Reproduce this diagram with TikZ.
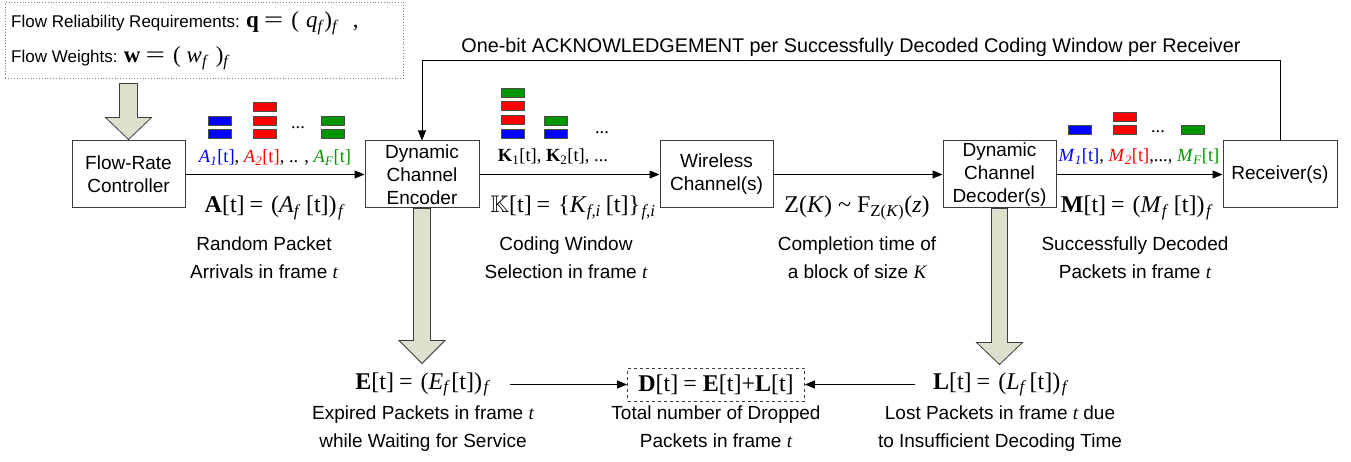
\documentclass[tikz,border=0pt]{standalone}
\usepackage{fontspec}
\usepackage{amssymb}
\usepackage{graphicx}
\setmainfont{Liberation Sans}
\newfontfamily\tm{Liberation Serif}
\usetikzlibrary{arrows.meta,calc}
\definecolor{pgreen}{RGB}{0,150,0}
\definecolor{pblue}{RGB}{0,0,255}
\definecolor{pred}{RGB}{255,0,0}
\definecolor{khaki}{RGB}{221,224,204}
\definecolor{edge}{RGB}{60,60,60}
\newcommand{\sbf}[1]{\textsubscript{\textit{#1}}}
\newcommand{\eqs}{\hspace{5pt}=\hspace{8pt}}
\newcommand{\fsp}{\hspace{5pt}}
\newcommand{\fatarrow}[4]{%
  \draw[bigarrow] let \p1=(#1), \p2=(#2) in
   (\x1-#3,\y1) -- (\x1+#3,\y1) -- (\x1+#3,\y2+#4) -- (\x1+23pt,\y2+#4) -- (\x2,\y2)
   -- (\x1-23pt,\y2+#4) -- (\x1-#3,\y2+#4) -- cycle;}
\tikzset{
 box/.style={draw=edge, line width=1pt, minimum width=113pt, minimum height=67pt, align=center, inner sep=1pt, font=\fontsize{19}{23}\selectfont},
 flow/.style={-{Triangle[length=10pt,width=8pt]}, line width=1pt, black},
 pkt/.style={draw=black!70, line width=0.6pt, minimum width=23pt, minimum height=9pt, inner sep=0pt},
 fml/.style={font=\tm\fontsize{24}{26}\selectfont, anchor=base, inner sep=0pt},
 lbl/.style={font=\tm\fontsize{18.5}{20}\selectfont, anchor=base, inner sep=0pt},
 capt/.style={font=\fontsize{19}{28}\selectfont, align=center, anchor=base, inner sep=0pt},
 bigarrow/.style={fill=khaki, draw=edge, line width=0.8pt, line join=miter},
}
\begin{document}
\begin{tikzpicture}[x=1pt,y=-1pt]
\useasboundingbox (0,0) rectangle (1351,462);

% configuration box
\node[draw=gray, dotted, line width=0.8pt, minimum width=398pt, minimum height=76pt, anchor=north west, inner sep=0pt] (cfg) at (5,2) {};
\node[anchor=base west, inner sep=0pt, font=\fontsize{17}{20}\selectfont] (cfgq) at (11,28)
  {Flow Reliability Requirements: {\tm\fontsize{23}{25}\selectfont \textbf{q}\hspace{5pt}\scalebox{1.5}[1]{=}\hspace{8pt}(\hspace{7pt}\textit{q}\sbf{f})\sbf{f}\hspace{14pt},}};
\node[anchor=base west, inner sep=0pt, font=\fontsize{17}{20}\selectfont] (cfgw) at (11,63)
  {Flow Weights: {\tm\fontsize{23}{25}\selectfont \textbf{w}\hspace{5pt}\scalebox{1.5}[1]{=}\hspace{8pt}(\hspace{6pt}\textit{w}\sbf{f}\hspace{7pt})\sbf{f}}};

% main boxes
\node[box] (ctrl) at (128.5,174.5) {Flow-Rate\\Controller};
\node[box, minimum width=114pt] (enc) at (422,174.5) {Dynamic\\Channel\\Encoder};
\node[box] (wl) at (716.5,174.5) {Wireless\\Channel(s)};
\node[box] (dec) at (999.5,174.5) {Dynamic\\Channel\\Decoder(s)};
\node[box, minimum width=114pt] (rec) at (1280,174.5) {Receiver(s)};

% horizontal flows
\draw[flow] (ctrl.east) -- (enc.west);
\draw[flow] (enc.east) -- (wl.west);
\draw[flow] (wl.east) -- (dec.west);
\draw[flow] (dec.east) -- (rec.west);

% feedback
\draw[flow] (rec.north) -- (rec.north |- 0,61) -| (enc.north);
\node[anchor=base, inner sep=0pt, font=\fontsize{19.8}{22}\selectfont] (ack) at (851,53)
  {One-bit ACKNOWLEDGEMENT per Successfully Decoded Coding Window per Receiver};

% big arrows
\fatarrow{$(ctrl.north)+(0,-57)$}{$(ctrl.north)+(0,-1)$}{9pt}{22pt}
\fatarrow{enc.south}{$(enc.south)+(0,155)$}{8.5pt}{23pt}
\fatarrow{dec.south}{$(dec.south)+(0,156)$}{8pt}{22pt}

% packets A
\node[pkt, fill=pblue] (pa1) at (219.5,120.5) {};
\node[pkt, fill=pblue] (pa2) at (219.5,133.5) {};
\node[pkt, fill=pred] (pa3) at (265,106.5) {};
\node[pkt, fill=pred] (pa4) at (265,120.5) {};
\node[pkt, fill=pred] (pa5) at (265,133.5) {};
\node[pkt, fill=pgreen] (pa6) at (332.5,120.5) {};
\node[pkt, fill=pgreen] (pa7) at (332.5,133.5) {};
\node[lbl] (pad) at (298,129) {...};

% packets K
\node[pkt, fill=pgreen] (pk1) at (512.5,92.5) {};
\node[pkt, fill=pred] (pk2) at (512.5,106.2) {};
\node[pkt, fill=pred] (pk3) at (512.5,119.8) {};
\node[pkt, fill=pblue] (pk4) at (512.5,133.5) {};
\node[pkt, fill=pgreen] (pk5) at (556,120.5) {};
\node[pkt, fill=pblue] (pk6) at (556,133.5) {};
\node[lbl] (pkd) at (602,134) {...};

% packets M
\node[pkt, fill=pblue] (pm1) at (1079.5,129.5) {};
\node[pkt, fill=pred] (pm2) at (1124.5,116.5) {};
\node[pkt, fill=pred] (pm3) at (1124.5,129.5) {};
\node[pkt, fill=pgreen] (pm4) at (1193,129.5) {};
\node[lbl] (pmd) at (1158,133) {...};

% colored labels
\node[lbl] (la) at (275,163) {{\color{pblue}\textit{A}\sbf{1}[t]}, {\color{pred}\textit{A}\sbf{2}[t]}, .. , {\color{pgreen}\textit{A}\sbf{F}[t]}};
\node[lbl] (lk) at (553,162) {\textbf{K}\textsubscript{1}[t], \textbf{K}\textsubscript{2}[t], ...};
\node[lbl] (lm) at (1139,162) {{\color{pblue}\textit{M}\sbf{1}[t]}, {\color{pred}\textit{M}\sbf{2}[t]},..., {\color{pgreen}\textit{M}\sbf{F}[t]}};

% formulas
\node[fml] (fa) at (275,212.5) {\textbf{A}[t]\eqs(\textit{A}\sbf{f}\fsp[t])\hspace{1.5pt}\sbf{f}};
\node[fml] (fk) at (573,212.5) {$\mathbb{K}$[t]\eqs\{\textit{K}\sbf{f,i}\fsp[t]\}\hspace{1.5pt}\sbf{f,i}};
\node[fml] (fz) at (857,212.5) {Z(\textit{K}) \textasciitilde{} F\textsubscript{Z(\textit{K})}(\textit{z})};
\node[fml] (fm) at (1137,212.5) {\textbf{M}[t]\eqs(\textit{M}\sbf{f}\fsp[t])\hspace{1.5pt}\sbf{f}};

% captions (base = last line)
\node[capt] (ca) at (264,278) {Random Packet\\Arrivals in frame {\tm\itshape t}};
\node[capt] (ck) at (566,278) {Coding Window\\Selection in frame {\tm\itshape t}};
\node[capt] (cz) at (857,278) {Completion time of\\a block of size {\tm\itshape K}};
\node[capt] (cm) at (1135,278) {Successfully Decoded\\Packets in frame {\tm\itshape t}};

% bottom
\node[fml] (fe) at (423,389) {\textbf{E}[t]\eqs(\textit{E}\sbf{f}\hspace{1pt}[t])\hspace{1.5pt}\sbf{f}};
\node[draw=edge, dashed, line width=0.9pt, minimum width=177pt, minimum height=33pt, inner sep=0pt, font=\tm\fontsize{24}{26}\selectfont] (fd) at (716,384.5)
  {\textbf{D}[t]\hspace{5pt}=\hspace{6pt}\textbf{E}[t]+\textbf{L}[t]};
\node[fml] (fl) at (1001,389) {\textbf{L}[t]\eqs(\textit{L}\sbf{f}\hspace{3pt}[t])\hspace{1.5pt}\sbf{f}};
\draw[flow] (fe.east |- fd.west) ++(19,0) -- (fd.west);
\draw[flow] (fl.west |- fd.east) ++(-18,0) -- (fd.east);

\node[capt] (ce) at (423,447) {Expired Packets in frame {\tm\itshape t}\\while Waiting for Service};
\node[capt] (cd) at (716,447) {Total number of Dropped\\Packets in frame {\tm\itshape t}};
\node[capt] (cl) at (1000,447) {Lost Packets in frame {\tm\itshape t} due\\to Insufficient Decoding Time};
\end{tikzpicture}
\end{document}
